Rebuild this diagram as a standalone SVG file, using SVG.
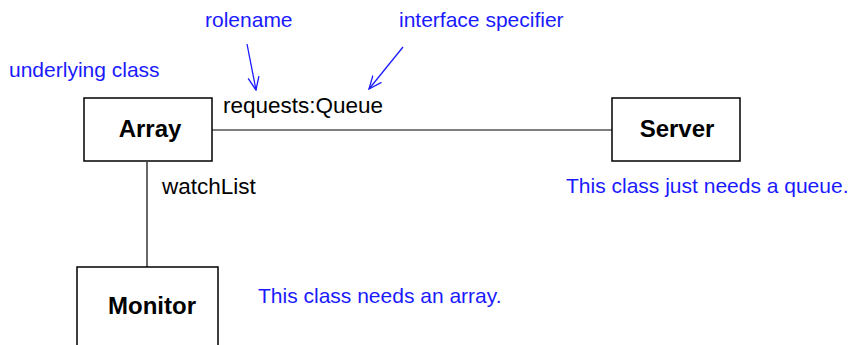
<svg xmlns="http://www.w3.org/2000/svg" width="855" height="345" viewBox="0 0 855 345">
<defs>
<style>
.box{fill:#fff;stroke:#000;stroke-width:1.5}
.name{font-family:"Liberation Sans",Arial,sans-serif;font-weight:bold;font-size:24px;fill:#000;text-anchor:middle}
.lbl{font-family:"Liberation Sans",Arial,sans-serif;font-size:22.5px;fill:#000}
.note{font-family:"Liberation Sans",Arial,sans-serif;font-size:21px;fill:#1a1aff}
.conn{stroke:#000;stroke-width:1.2;fill:none}
.ptr{stroke:#1a1aff;stroke-width:1.3;fill:none}
</style>
<marker id="open" viewBox="0 0 14 14" refX="13" refY="7" markerWidth="14" markerHeight="14" markerUnits="userSpaceOnUse" orient="auto">
<path d="M0,1.5 L13,7 L0,12.5" fill="none" stroke="#1a1aff" stroke-width="1.3"/>
</marker>
</defs>
<rect width="855" height="345" fill="#fff"/>
<g id="connectors">
<line class="conn" x1="212" y1="130" x2="612" y2="130"/>
<line class="conn" x1="147" y1="162" x2="147" y2="267"/>
<line class="ptr" x1="247" y1="44" x2="256" y2="90" marker-end="url(#open)"/>
<line class="ptr" x1="403" y1="47" x2="369" y2="89" marker-end="url(#open)"/>
</g>
<g id="array">
<rect class="box" x="84" y="98" width="128" height="63"/>
<text class="name" x="150" y="137">Array</text>
</g>
<g id="server">
<rect class="box" x="612" y="98" width="128" height="63"/>
<text class="name" x="677" y="137">Server</text>
</g>
<g id="monitor">
<rect class="box" x="77" y="267" width="141" height="100"/>
<text class="name" x="152" y="314">Monitor</text>
</g>
<g id="labels">
<text class="lbl" x="223" y="113">requests:Queue</text>
<text class="lbl" x="162" y="194">watchList</text>
<text class="note" x="205" y="27">rolename</text>
<text class="note" x="399" y="27">interface specifier</text>
<text class="note" x="9" y="77">underlying class</text>
<text class="note" x="566" y="193">This class just needs a queue.</text>
<text class="note" x="258" y="303">This class needs an array.</text>
</g>
</svg>
